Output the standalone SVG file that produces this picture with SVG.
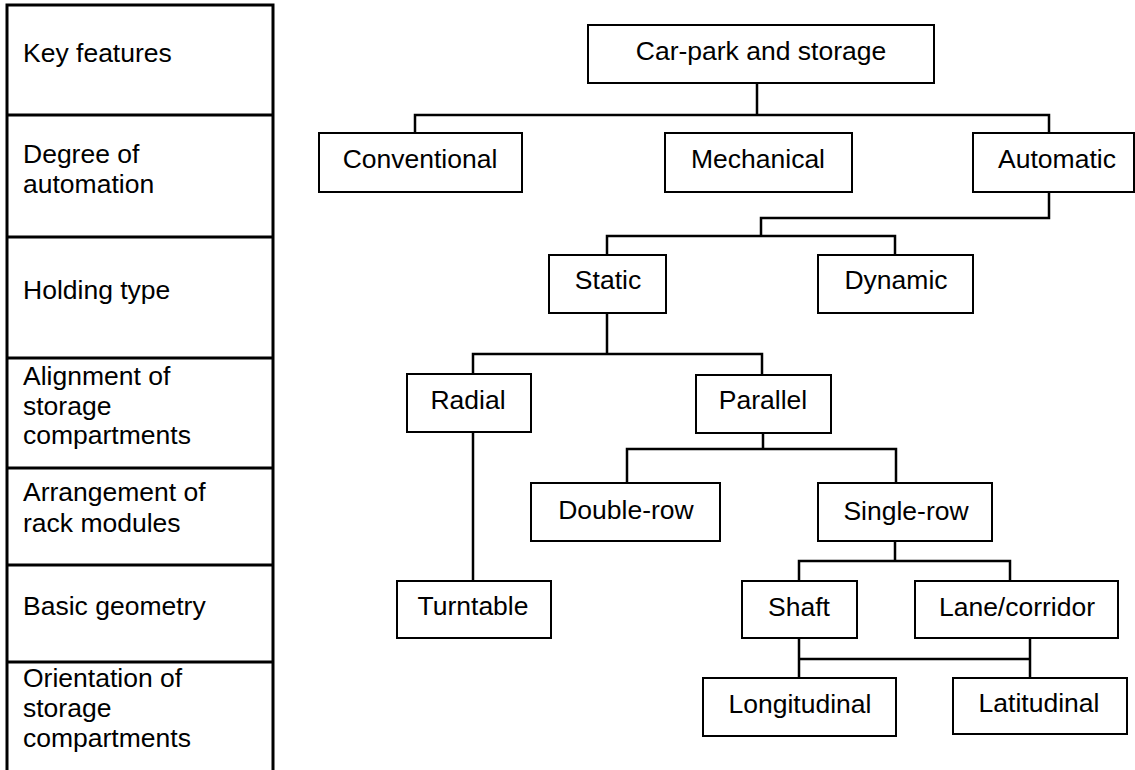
<svg xmlns="http://www.w3.org/2000/svg" width="1135" height="770" viewBox="0 0 1135 770">
<style>
.t{font-family:"Liberation Sans",Arial,sans-serif;font-size:26.5px;fill:#000}
.c{text-anchor:middle}
.box{fill:#fff;stroke:#000;stroke-width:2}
.ln{fill:none;stroke:#000;stroke-width:2.5}
.tb{fill:none;stroke:#000;stroke-width:3}
</style>
<rect width="1135" height="770" fill="#fff"/>
<g id="table">
<path class="tb" d="M7,770 V5 H273 V770 M7,115 H273 M7,237 H273 M7,358 H273 M7,468 H273 M7,565 H273 M7,662 H273"/>
<text class="t" x="23" y="62">Key features</text>
<text class="t" x="23" y="163">Degree of</text>
<text class="t" x="23" y="193">automation</text>
<text class="t" x="23" y="299">Holding type</text>
<text class="t" x="23" y="385">Alignment of</text>
<text class="t" x="23" y="415">storage</text>
<text class="t" x="23" y="444">compartments</text>
<text class="t" x="23" y="501">Arrangement of</text>
<text class="t" x="23" y="532">rack modules</text>
<text class="t" x="23" y="615">Basic geometry</text>
<text class="t" x="23" y="687">Orientation of</text>
<text class="t" x="23" y="717">storage</text>
<text class="t" x="23" y="747">compartments</text>
</g>
<g id="connectors">
<path class="ln" d="M757,83 V115 M415,133 V115 H1049 V133"/>
<path class="ln" d="M1049,192 V218 H761 V236 M607,255 V236 H895 V255"/>
<path class="ln" d="M607,313 V354 M473,374 V354 H762 V375"/>
<path class="ln" d="M473,432 V581"/>
<path class="ln" d="M763,433 V449 M627,483 V449 H896 V483"/>
<path class="ln" d="M895,541 V561 M799,581 V561 H1010 V581"/>
<path class="ln" d="M799,638 V678 M1030,638 V678 M799,659 H1030"/>
</g>
<g id="n-root"><rect class="box" x="588" y="25" width="346" height="58"/><text class="t c" x="761" y="60">Car-park and storage</text></g>
<g id="n-conventional"><rect class="box" x="319" y="133" width="203" height="59"/><text class="t c" x="420" y="168">Conventional</text></g>
<g id="n-mechanical"><rect class="box" x="665" y="133" width="187" height="59"/><text class="t c" x="758" y="168">Mechanical</text></g>
<g id="n-automatic"><rect class="box" x="973" y="133" width="161" height="59"/><text class="t c" x="1057" y="168">Automatic</text></g>
<g id="n-static"><rect class="box" x="549" y="255" width="117" height="58"/><text class="t c" x="608" y="289">Static</text></g>
<g id="n-dynamic"><rect class="box" x="818" y="255" width="155" height="58"/><text class="t c" x="896" y="289">Dynamic</text></g>
<g id="n-radial"><rect class="box" x="407" y="374" width="124" height="58"/><text class="t c" x="468" y="409">Radial</text></g>
<g id="n-parallel"><rect class="box" x="696" y="375" width="135" height="58"/><text class="t c" x="763" y="409">Parallel</text></g>
<g id="n-doublerow"><rect class="box" x="531" y="483" width="189" height="58"/><text class="t c" x="626" y="519">Double-row</text></g>
<g id="n-singlerow"><rect class="box" x="818" y="483" width="174" height="58"/><text class="t c" x="906" y="520">Single-row</text></g>
<g id="n-turntable"><rect class="box" x="397" y="581" width="154" height="57"/><text class="t c" x="473" y="615">Turntable</text></g>
<g id="n-shaft"><rect class="box" x="742" y="581" width="115" height="57"/><text class="t c" x="799" y="616">Shaft</text></g>
<g id="n-lane"><rect class="box" x="915" y="581" width="203" height="57"/><text class="t c" x="1017" y="616">Lane/corridor</text></g>
<g id="n-longitudinal"><rect class="box" x="703" y="678" width="193" height="58"/><text class="t c" x="800" y="713">Longitudinal</text></g>
<g id="n-latitudinal"><rect class="box" x="953" y="678" width="174" height="56"/><text class="t c" x="1039" y="712">Latitudinal</text></g>
</svg>
